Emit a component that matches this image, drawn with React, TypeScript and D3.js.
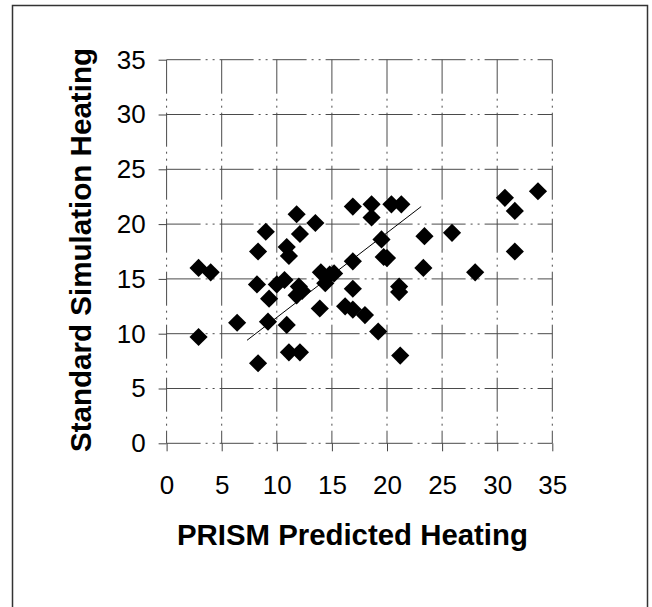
import { useEffect, useRef } from 'react';
import * as d3 from 'd3';

// PRISM predicted vs standard simulation heating
const prismX = [
  2.9, 4.0, 2.9, 6.4, 8.3, 9.0, 8.2, 9.3, 9.2, 8.3, 10.0, 10.7, 10.9, 11.1, 10.9, 11.1, 12.1, 11.8, 12.1, 12.0, 11.8,
  12.3, 13.5, 13.9, 14.0, 14.8, 15.2, 14.4, 16.9, 16.9, 16.9, 16.2, 16.9, 18.0, 18.6, 18.6, 19.5, 19.2, 19.7, 20.0,
  20.4, 21.3, 21.1, 21.1, 21.2, 23.4, 23.3, 25.9, 28.0, 30.7, 31.6, 31.6, 33.7,
];
const simY = [
  16.0, 15.6, 9.7, 11.0, 17.5, 19.3, 14.5, 13.2, 11.1, 7.3, 14.5, 14.9, 17.9, 17.1, 10.8, 8.3, 8.3, 20.9, 19.1, 14.3,
  13.5, 13.9, 20.1, 12.3, 15.6, 15.4, 15.5, 14.6, 21.6, 16.6, 14.1, 12.5, 12.2, 11.7, 21.8, 20.6, 18.6, 10.2, 17.0,
  16.9, 21.8, 21.8, 14.3, 13.8, 8.0, 18.9, 16.0, 19.2, 15.6, 22.4, 21.2, 17.5, 23.0,
];

// fitted trend line end points
const trendX = [7.3, 23.1];
const trendY = [9.4, 21.6];

const tickValues = [0, 5, 10, 15, 20, 25, 30, 35];

const xTitle = 'PRISM Predicted Heating';
const yTitle = 'Standard Simulation Heating';

export default function App(): JSX.Element {
  const svgRef = useRef<SVGSVGElement>(null);

  useEffect(() => {
    if (svgRef.current) {
      svgRef.current.innerHTML = '';
    }
    const width = 652;
    const height = 607;
    const left = 166.6;
    const right = 552.3;
    const top = 59.7;
    const bottom = 443.3;
    const font = '"Liberation Sans", Arial, sans-serif';

    const x = d3.scaleLinear([0, 35], [left, right]);
    const y = d3.scaleLinear([0, 35], [bottom, top]);

    const svg = d3
      .select(svgRef.current)
      .attr('width', width)
      .attr('height', height)
      .attr('viewBox', [0, 0, width, height]);

    svg.append('rect').attr('width', width).attr('height', height).attr('fill', '#fff');

    // outer frame (bottom edge runs off the page)
    svg
      .append('rect')
      .attr('x', 12.5)
      .attr('y', 5.5)
      .attr('width', 635)
      .attr('height', 620)
      .attr('fill', 'none')
      .attr('stroke', '#333')
      .attr('stroke-width', 1.5);

    const grid = svg.append('g').attr('stroke', '#4a4a4a').attr('stroke-width', 1).attr('stroke-dasharray', '34 5 2 5 2 5');

    grid
      .selectAll('line.h')
      .data(tickValues)
      .join('line')
      .attr('class', 'h')
      .attr('x1', left)
      .attr('x2', right)
      .attr('y1', (d) => y(d))
      .attr('y2', (d) => y(d));

    grid
      .selectAll('line.v')
      .data(tickValues)
      .join('line')
      .attr('class', 'v')
      .attr('x1', (d) => x(d))
      .attr('x2', (d) => x(d))
      .attr('y1', top)
      .attr('y2', bottom);

    // y axis
    svg
      .append('g')
      .attr('transform', `translate(${left},0)`)
      .call(
        d3
          .axisLeft(y)
          .tickValues(tickValues)
          .tickSize(8)
          .tickPadding(13)
          .tickFormat(d3.format('d'))
      )
      .call((g) => g.select('.domain').remove())
      .call((g) => g.selectAll('.tick line').attr('stroke', '#444'))
      .call((g) =>
        g
          .selectAll('.tick text')
          .attr('font-family', font)
          .attr('font-size', 26)
          .attr('fill', '#000')
      );

    // x axis
    svg
      .append('g')
      .attr('transform', `translate(0,${bottom})`)
      .call(
        d3
          .axisBottom(x)
          .tickValues(tickValues)
          .tickSize(8)
          .tickPadding(24)
          .tickFormat(d3.format('d'))
      )
      .call((g) => g.select('.domain').remove())
      .call((g) => g.selectAll('.tick line').attr('stroke', '#444'))
      .call((g) =>
        g
          .selectAll('.tick text')
          .attr('font-family', font)
          .attr('font-size', 26)
          .attr('fill', '#000')
      );

    // trend line
    const line = d3
      .line<number>()
      .x((d) => x(trendX[d]))
      .y((d) => y(trendY[d]));
    svg
      .append('path')
      .attr('fill', 'none')
      .attr('stroke', '#000')
      .attr('stroke-width', 1)
      .attr('d', line([0, 1]));

    // diamond markers
    const diamond = d3.symbol(d3.symbolSquare, 165);
    svg
      .append('g')
      .selectAll('path')
      .data(prismX)
      .join('path')
      .attr('d', diamond())
      .attr('transform', (d, i) => `translate(${x(d)},${y(simY[i])}) rotate(45)`)
      .attr('fill', '#000');

    // axis titles
    svg
      .append('text')
      .attr('x', (left + right) / 2 - 7)
      .attr('y', 545)
      .attr('text-anchor', 'middle')
      .attr('font-family', font)
      .attr('font-weight', 'bold')
      .attr('font-size', 29)
      .attr('textLength', 351)
      .attr('lengthAdjust', 'spacingAndGlyphs')
      .text(xTitle);

    svg
      .append('text')
      .attr('transform', `translate(91,250) rotate(-90)`)
      .attr('text-anchor', 'middle')
      .attr('font-family', font)
      .attr('font-weight', 'bold')
      .attr('font-size', 29)
      .attr('textLength', 404)
      .attr('lengthAdjust', 'spacingAndGlyphs')
      .text(yTitle);
  }, []);

  return (
    <div style={{ position: 'absolute', left: 0, top: 0 }}>
      <svg ref={svgRef} style={{ display: 'block' }} />
    </div>
  );
}
